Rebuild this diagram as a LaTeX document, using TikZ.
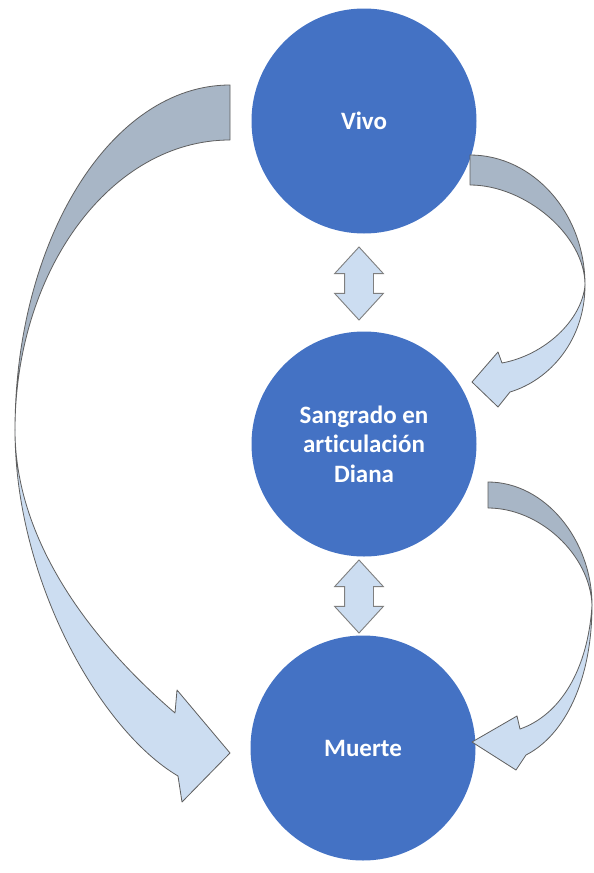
\documentclass[tikz,border=0pt]{standalone}
\usepackage{fontspec}
\setmainfont{Carlito}[Ligatures=NoCommon]
\usetikzlibrary{shapes.arrows}
\newcommand{\pxsize}{1pt}
\definecolor{estado}{HTML}{4472C4}
\definecolor{cintaatras}{HTML}{A8B6C6}
\definecolor{cintafrente}{HTML}{CCDDF1}
\definecolor{borde}{HTML}{5F5F5F}

\begin{document}
\begin{tikzpicture}[x=\pxsize, y=-\pxsize]
\tikzstyle{estadonodo}=[circle,
			fill=estado,
			minimum size = 225*\pxsize,
			inner sep=0pt,
			text=white,
			align=center,
			font=\fontsize{25}{29.5}\selectfont\bfseries
			]
\tikzstyle{dobleflecha}=[double arrow,
			draw=borde!80,
			fill=cintafrente,
			line width=0.9pt,
			rotate=90,
			inner xsep=0pt,
			inner ysep=14*\pxsize,
			minimum width = 48*\pxsize,
			minimum height = 73*\pxsize,
			double arrow head extend = 10*\pxsize,
			double arrow tip angle = 85
			]
\tikzstyle{cinta}=[draw=borde, line width=0.8pt, line join=round]

\fill[white] (0,0) rectangle (594,873);
\useasboundingbox (0,0) rectangle (594,873);

% estados
\node[estadonodo] (vivo) at (364,121) {Vivo};
\node[estadonodo] (sangrado) at (364,444) {Sangrado en\\articulación\\Diana};
\node[estadonodo] (muerte) at (363,748) {Muerte};

% flechas dobles
\node[dobleflecha] (vivosangrado) at (359,283.5) {};
\node[dobleflecha] (sangradomuerte) at (359,596.5) {};

% Vivo -> Muerte
\draw[cinta, fill=cintaatras] (230,85) .. controls (111,85) and (15,240) .. (15,430)
	.. controls (15,270) and (111,140) .. (230,140) -- cycle;
\draw[cinta, fill=cintafrente] (15,430) .. controls (15,580) and (100,730) .. (178,776)
	-- (182,802) -- (230,753) -- (177,690) -- (175,713)
	.. controls (90,640) and (15,540) .. (15,430) -- cycle;

% Vivo -> Sangrado
\draw[cinta, fill=cintaatras] (470,155) .. controls (533,155) and (585,213) .. (585,285)
	.. controls (585,235) and (525,185) .. (470,185) -- cycle;
\draw[cinta, fill=cintafrente] (585,285) .. controls (585,340) and (550,380) .. (510,392)
	-- (498,407) -- (472,382) -- (498,352) -- (502,363)
	.. controls (545,355) and (582,320) .. (585,285) -- cycle;

% Sangrado -> Muerte
\draw[cinta, fill=cintaatras] (488,482) .. controls (545,482) and (592,540) .. (592,605)
	.. controls (590,555) and (540,508) .. (488,508) -- cycle;
\draw[cinta, fill=cintafrente] (592,605) .. controls (592,680) and (565,735) .. (526,755)
	-- (516,770) -- (472,742) -- (517,716) -- (520,729)
	.. controls (560,715) and (588,670) .. (592,605) -- cycle;

\end{tikzpicture}
\end{document}
